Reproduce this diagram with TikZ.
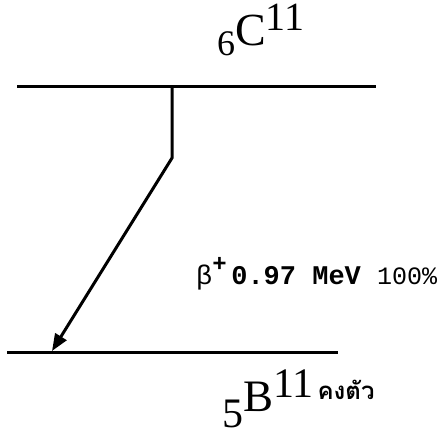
\documentclass[tikz,border=0pt]{standalone}
\usepackage{fontspec}
\setmainfont{Liberation Serif}
\newfontfamily\monofont{Liberation Mono}
\newfontfamily\thaifont[Script=Thai]{Loma}
\usetikzlibrary{arrows.meta,positioning}

\newcommand{\fs}[1]{\fontsize{#1}{#1}\selectfont}

\begin{document}
\begin{tikzpicture}[
  x=1pt, y=-1pt,
  >={Triangle[length=17pt,width=13pt]},
  lvl/.style = {line width=3pt},
  dec/.style = {line width=3pt, ->},
  lbl/.style = {inner sep=0pt, anchor=base west},
]
\useasboundingbox (0,0) rectangle (443,437);

\def\yT{86} \def\yB{352}

% levels
\draw[lvl] (17,\yT) -- (376,\yT);
\draw[lvl] (7,\yB)  -- (338,\yB);

% decay path
\coordinate (start) at (172,\yT);
\coordinate (bend)  at (172,158);
\coordinate (tip)   at (52,\yB-1);
\draw[dec] (start) -- (bend) -- (tip);

% nuclide labels
\node[lbl] (parent) at (217,55)
  {\fs{36}6\raisebox{10pt}{\fs{46}C}\raisebox{25pt}{\fs{40}11}};
\node[lbl] (daughter) at (222,427)
  {\fs{42}5\raisebox{16pt}{\fs{45}B}\raisebox{30pt}{\fs{42}11}%
   \raisebox{28pt}{\thaifont\bfseries\fs{24}\,คงตัว}};

% transition label
\node[lbl] (trans) at (196,284)
  {\monofont\fs{27}β\raisebox{13pt}{\fs{24}\textbf{+}}\,\textbf{0.97 MeV}\ \fs{25}100\%};

\end{tikzpicture}
\end{document}
